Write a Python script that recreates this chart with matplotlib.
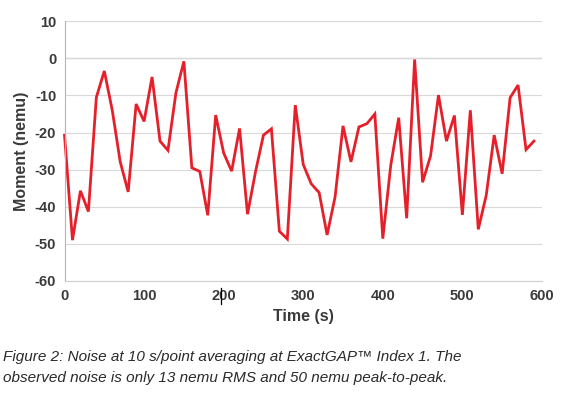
import matplotlib.pyplot as plt
from matplotlib import font_manager
from matplotlib.lines import Line2D

time_s = list(range(0, 600, 10))
moment = [-20.7, -49.0, -35.7, -41.3, -10.5, -3.4, -14.0, -27.9, -36.0, -12.3,
          -17.0, -5.0, -22.3, -24.8, -9.3, -0.8, -29.5, -30.5, -42.3, -15.3,
          -25.5, -30.4, -18.9, -42.0, -30.6, -20.7, -19.0, -46.6, -48.7, -12.6,
          -28.6, -33.8, -36.2, -47.6, -37.4, -18.2, -27.9, -18.5, -17.6, -15.0,
          -48.6, -28.8, -16.0, -43.1, -0.3, -33.4, -26.3, -9.9, -22.3, -15.4,
          -42.2, -14.0, -46.1, -36.9, -20.7, -31.1, -10.6, -7.2, -24.6, -22.3]

yticks = list(range(-60, 11, 10))
xticks = list(range(0, 601, 100))

plt.rcParams['axes.unicode_minus'] = False

names = {f.name for f in font_manager.fontManager.ttflist}
cond = 'Liberation Sans Narrow' if 'Liberation Sans Narrow' in names else 'Liberation Sans'

fig = plt.figure(figsize=(5.67, 3.94), dpi=100)
ax = fig.add_axes([0.1138, 0.287, 0.842, 0.659])

ax.plot(time_s, moment, color='#e6202a', lw=2.0, solid_joinstyle='miter', clip_on=False)
ax.set_xlim(0, 600)
ax.set_ylim(-60, 10)
ax.set_xticks(xticks)
ax.set_yticks(yticks)
ax.grid(axis='y', color='#d9d9d9', lw=0.8)
ax.axhline(0, color='#b5b5b5', lw=0.9, zorder=0.5)
ax.set_axisbelow(True)
for s in ['top', 'right']:
    ax.spines[s].set_visible(False)
ax.spines['left'].set_color('#b5b5b5')
ax.spines['bottom'].set_color('#d0d0d0')
ax.tick_params(length=0, labelsize=10.5, labelcolor='#3a3a3a', pad=6)
for lab in ax.get_xticklabels() + ax.get_yticklabels():
    lab.set_fontfamily(cond)
    lab.set_fontweight('bold')

ax.set_xlabel('Time (s)', fontfamily=cond, fontweight='bold', fontsize=11.5,
              color='#3a3a3a', labelpad=4)
ax.set_ylabel('Moment (nemu)', fontfamily=cond, fontweight='bold', fontsize=11.5,
              color='#3a3a3a', labelpad=4)

# cursor mark over the 200 label
fig.add_artist(Line2D([221 / 567, 221 / 567], [1 - 288 / 394, 1 - 304 / 394],
                      color='black', lw=0.9))

fig.text(0.005, 1 - 357 / 394,
         'Figure 2: Noise at 10 s/point averaging at ExactGAP\u2122 Index 1. The',
         fontsize=11, style='italic', color='#2a2a2a', fontfamily='Liberation Sans',
         va='center')
fig.text(0.005, 1 - 378 / 394,
         'observed noise is only 13 nemu RMS and 50 nemu peak-to-peak.',
         fontsize=11, style='italic', color='#2a2a2a', fontfamily='Liberation Sans',
         va='center')

fig.savefig('out.png', dpi=100)
